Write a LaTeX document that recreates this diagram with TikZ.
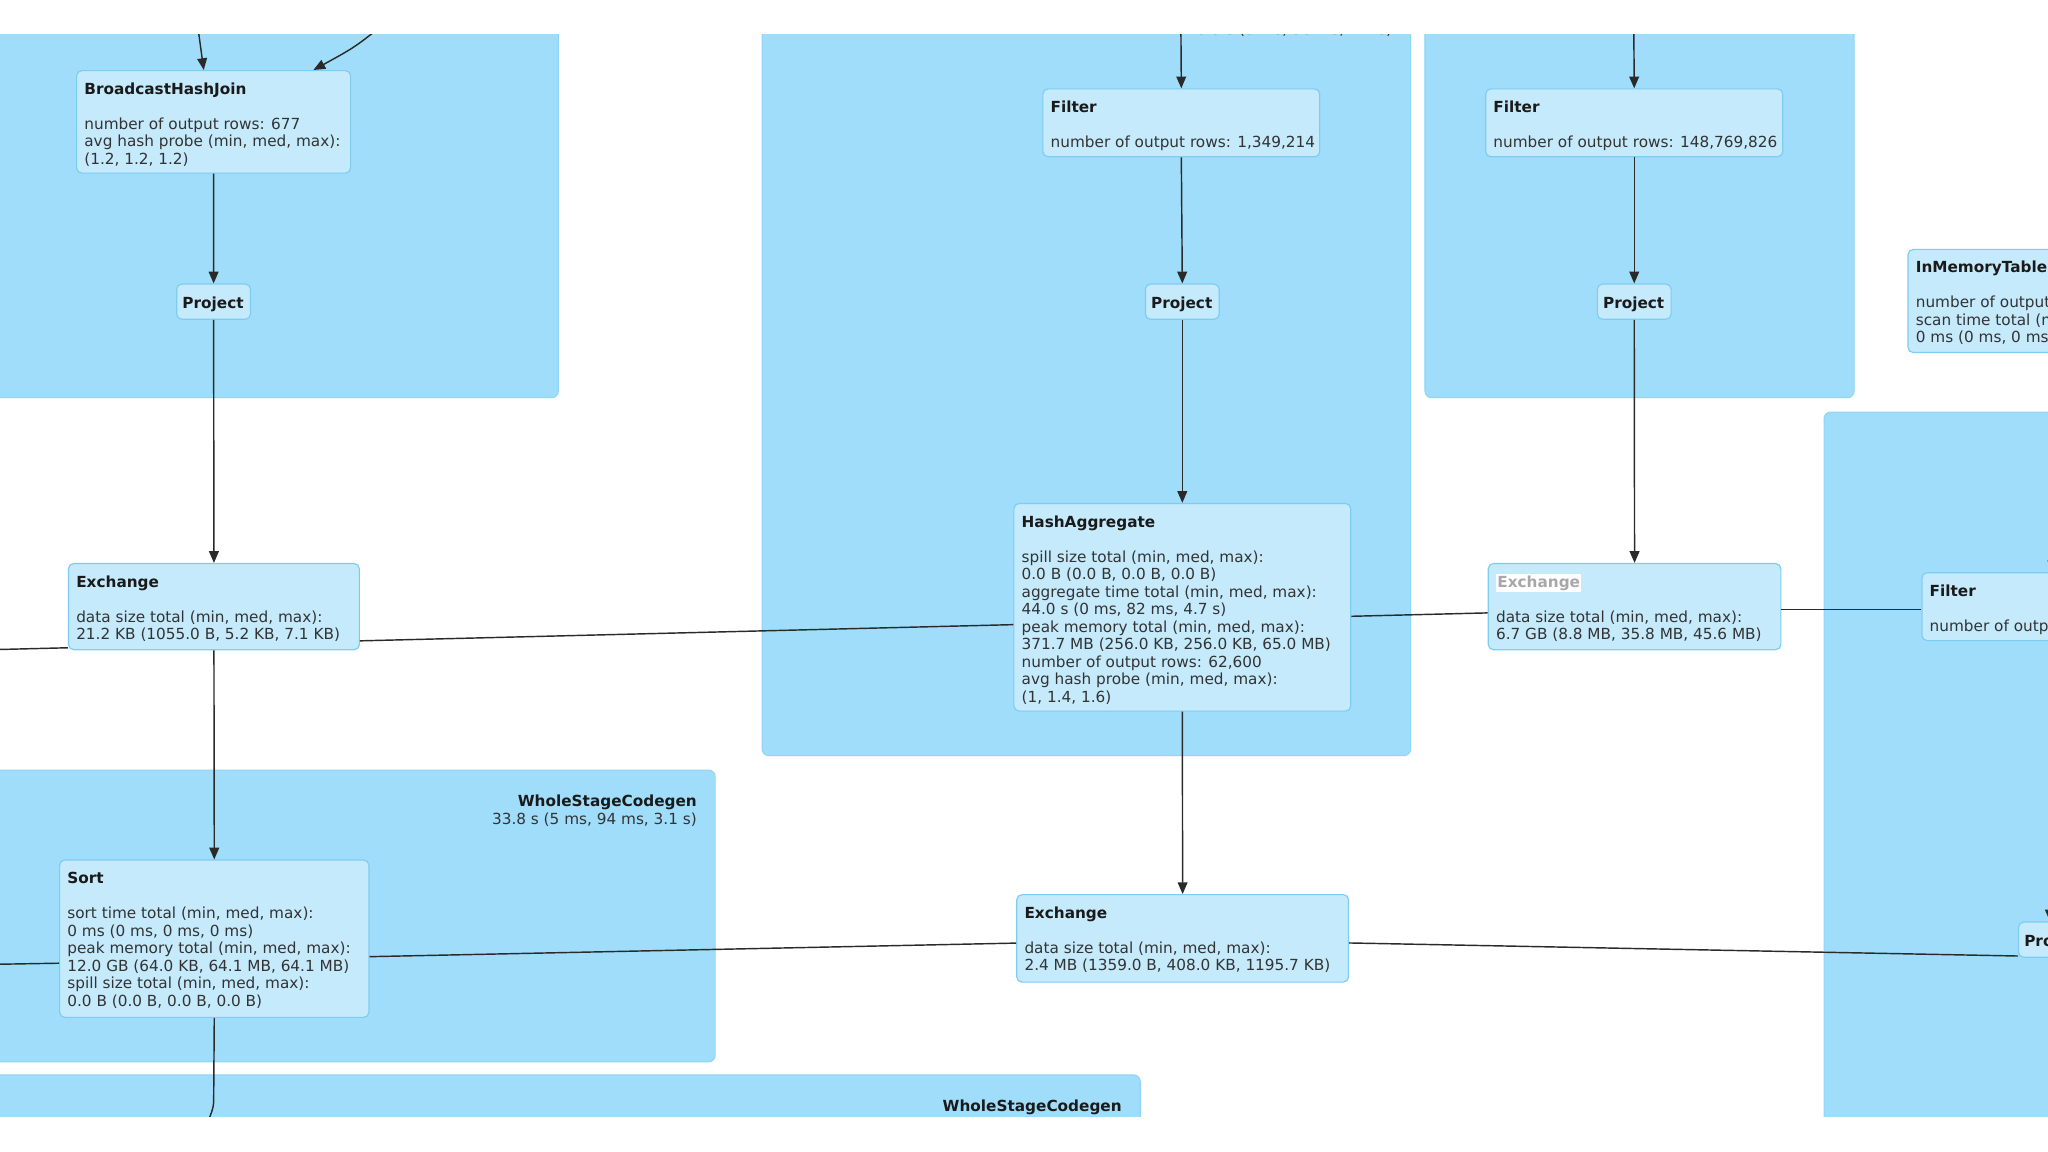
\documentclass[tikz,border=0pt]{standalone}
\usepackage{fontspec}
\setmainfont{DejaVu Sans}
\usetikzlibrary{arrows.meta,calc}
\definecolor{panelfill}{HTML}{A0DDFA}
\definecolor{panelline}{HTML}{8ED5F7}
\definecolor{nodefill}{HTML}{C4EAFC}
\definecolor{nodeline}{HTML}{7FCCF2}
\definecolor{edgecol}{HTML}{2A2A2A}
\definecolor{titcol}{HTML}{1A1A1A}
\definecolor{txtcol}{HTML}{333333}
\definecolor{greytxt}{HTML}{A8A8A8}
\tikzset{
 panel/.style={fill=panelfill, draw=panelline, line width=0.8pt, rounded corners=5pt},
 opbox/.style={draw=nodeline, fill=nodefill, line width=0.9pt, rounded corners=4pt, inner sep=0pt, anchor=north west},
 tit/.style={font=\fontsize{11.7}{13.4}\selectfont\bfseries, text=titcol, inner sep=0pt, anchor=base west},
 txt/.style={font=\fontsize{11.7}{13.4}\selectfont, text=txtcol, inner sep=0pt, anchor=base west},
 arr/.style={draw=edgecol, line width=1.1pt, -{Triangle[length=9pt,width=7.5pt]}},
 plainedge/.style={draw=edgecol, line width=1.1pt},
}
\newcommand\opnode[7]{%
  \node[opbox, minimum width=#4pt, minimum height=#5pt] (#1) at (#2,#3) {};
  \node[tit] (#1-t) at ({#2+6.2},{#3+18.5}) {#6};
  \foreach \lnx [count=\k] in {#7} {\node[txt] (#1-\k) at ({#2+6.2},{#3+31.9+13.4*\k}) {\lnx};}%
}
\newcommand\projnode[3]{%
  \node[opbox, minimum width=56.5pt, minimum height=27pt] (#1) at (#2,#3) {};
  \node[tit, anchor=base] (#1-t) at ({#2+28.25},{#3+19}) {Project};%
}
\begin{document}
\begin{tikzpicture}[x=1pt,y=-1pt]
\useasboundingbox (0,0) rectangle (1568,882);
\fill[white] (0,0) rectangle (1568,882);
\clip (0,26.3) rectangle (1568,855);
% clusters
\path[panel] (-20,-20) rectangle (427.5,304.5);
\path[panel] (583.5,-20) rectangle (1080,578.5);
\path[panel] (1091,-20) rectangle (1419.5,304.5);
\path[panel] (1396.5,315.5) rectangle (1640,900);
\path[panel] (-20,589.6) rectangle (547.5,813);
\path[panel] (-20,823) rectangle (873,900);
% cluster labels
\node[txt, anchor=base east] (w2b) at (1066,26.1) {13.9 s (8 ms, 96 ms, 1.2 s)};
\node[tit, anchor=base east] (w5a) at (533.7,617.5) {WholeStageCodegen};
\node[txt, anchor=base east] (w5b) at (533.7,631) {33.8 s (5 ms, 94 ms, 3.1 s)};
\node[tit, anchor=base east] (w6a) at (859,851) {WholeStageCodegen};
% operator nodes
\opnode{bhj}{58.2}{53.6}{209.8}{78.5}{BroadcastHashJoin}{{number of output rows: 677},{avg hash probe (min, med, max):},{(1.2, 1.2, 1.2)}}
\projnode{p1}{134.85}{217}
\opnode{exch1}{52}{431}{222.7}{66}{Exchange}{{data size total (min, med, max):},{21.2 KB (1055.0 B, 5.2 KB, 7.1 KB)}}
\opnode{filt1}{798}{67.6}{212}{52}{Filter}{{number of output rows: 1,349,214}}
\projnode{p2}{876.5}{217}
\opnode{hagg}{775.8}{385}{257.9}{159}{HashAggregate}{{spill size total (min, med, max):},{0.0 B (0.0 B, 0.0 B, 0.0 B)},{aggregate time total (min, med, max):},{44.0 s (0 ms, 82 ms, 4.7 s)},{peak memory total (min, med, max):},{371.7 MB (256.0 KB, 256.0 KB, 65.0 MB)},{number of output rows: 62,600},{avg hash probe (min, med, max):},{(1, 1.4, 1.6)}}
\opnode{filt2}{1137}{67.6}{227.5}{52}{Filter}{{number of output rows: 148,769,826}}
\projnode{p3}{1222.5}{217}
% highlighted exchange
\node[opbox, minimum width=224pt, minimum height=66pt] (exchg) at (1139,431) {};
\node[tit, text=greytxt, fill=white, inner sep=1pt] (exchg-t) at (1145.2,449.5) {Exchange};
\node[txt] (exchg-1) at (1145.2,476.3) {data size total (min, med, max):};
\node[txt] (exchg-2) at (1145.2,489.7) {6.7 GB (8.8 MB, 35.8 MB, 45.6 MB)};
\opnode{inmem}{1460.4}{190.5}{240}{79}{InMemoryTableScan}{{number of output rows:},{scan time total (min, med, max):},{0 ms (0 ms, 0 ms, 0 ms)}}
\opnode{filt3}{1471}{438}{200}{52}{Filter}{{number of output rows:}}
\opnode{exchm}{778}{684.5}{254}{67}{Exchange}{{data size total (min, med, max):},{2.4 MB (1359.0 B, 408.0 KB, 1195.7 KB)}}
\opnode{sort}{45.2}{658}{236.8}{120.5}{Sort}{{sort time total (min, med, max):},{0 ms (0 ms, 0 ms, 0 ms)},{peak memory total (min, med, max):},{12.0 GB (64.0 KB, 64.1 MB, 64.1 MB)},{spill size total (min, med, max):},{0.0 B (0.0 B, 0.0 B, 0.0 B)}}
\projnode{rproj}{1545}{705.5}
% free ends
\coordinate (ta1) at (150.3,12);
\coordinate (ta2) at (297,16);
\coordinate (ta3) at (904,5);
\coordinate (ta4) at (1250.75,5);
\coordinate (ta5) at (1571,380);
\coordinate (ta6) at (1569.5,660);
\coordinate (la0) at (-10,497.5);
\coordinate (lb0) at (-10,738.4);
\coordinate (sd) at (157,865);
% arrows
\draw[arr] (ta1) -- ($(bhj.north west)+(97.8,0)$);
\draw[arr] (ta2) .. controls (272,36) .. ($(bhj.north west)+(181.8,0)$);
\draw[arr] (bhj.south) -- (p1.north);
\draw[arr] (p1.south) -- (exch1.north);
\draw[arr] (exch1.south) -- (sort.north);
\draw[plainedge] (sort.south) -- (163.6,842) .. controls (163.6,850) and (161,853) .. (sd);
\draw[arr] (ta3) -- (filt1.north);
\draw[arr] (filt1.south) -- (p2.north);
\draw[arr] (p2.south) -- (hagg.north);
\draw[arr] (hagg.south) -- (exchm.north);
\draw[arr] (ta4) -- (filt2.north);
\draw[arr] (filt2.south) -- (p3.north);
\draw[arr] (p3.south) -- (exchg.north);
\draw[arr] (ta5) -- (filt3.north);
\draw[arr] (ta6) -- ($(rproj.north west)+(24.5,0)$);
% long edges passing behind nodes
\draw[plainedge] (la0) -- ($(exch1.west)+(0,31.5)$);
\draw[plainedge] ($(exch1.east)+(0,26.2)$) -- ($(hagg.west)+(0,13.3)$);
\draw[plainedge] ($(hagg.east)+(0,6.9)$) -- ($(exchg.west)+(0,4.8)$);
\draw[plainedge] ($(exchg.east)+(0,2)$) -- ($(filt3.west)+(0,2)$);
\draw[plainedge] (lb0) -- ($(sort.west)+(0,18.75)$);
\draw[plainedge] ($(sort.east)+(0,13.75)$) -- ($(exchm.west)+(0,3.6)$);
\draw[plainedge] ($(exchm.east)+(0,3.5)$) -- ($(rproj.west)+(0,12.5)$);
\end{tikzpicture}
\end{document}
